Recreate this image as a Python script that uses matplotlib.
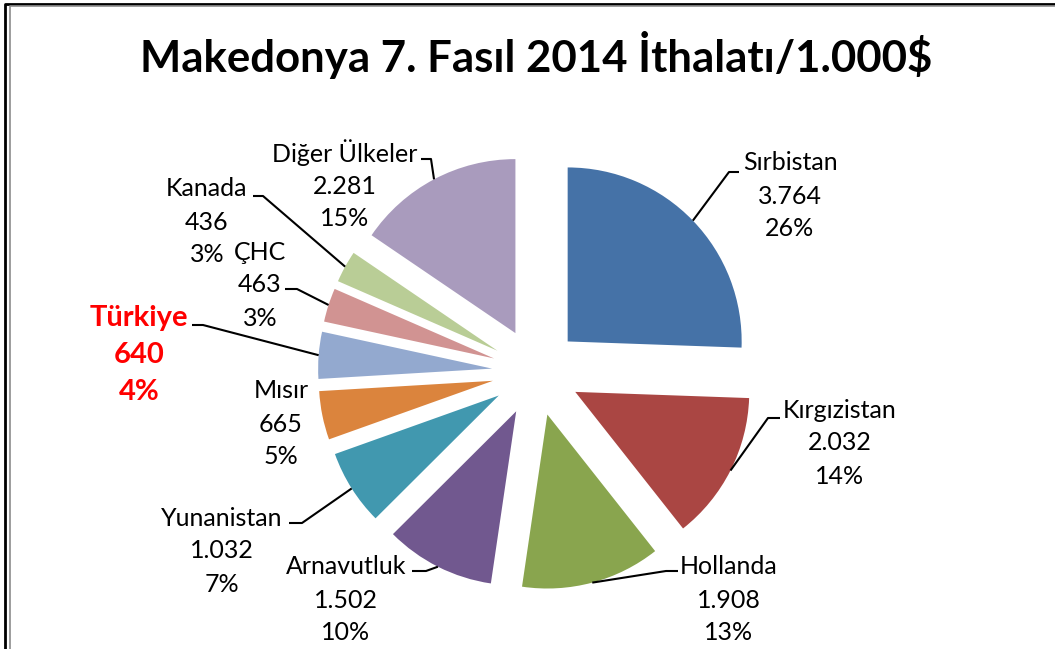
import numpy as np
import matplotlib
matplotlib.use('Agg')
import matplotlib.pyplot as plt

W, H = 1055, 649

countries = ['Sırbistan', 'Kırgızistan', 'Hollanda', 'Arnavutluk', 'Yunanistan',
             'Mısır', 'Türkiye', 'ÇHC', 'Kanada', 'Diğer Ülkeler']
values = [3764, 2032, 1908, 1502, 1032, 665, 640, 463, 436, 2281]
colors = ['#4572A7', '#AA4643', '#89A54E', '#71588F', '#4198AF',
          '#DB843D', '#93A9CF', '#D19392', '#B9CD96', '#A99BBD']
highlight = 'Türkiye'

# label layout in pixels from the top-left: centre x, y of the middle line
label_pos = [(790, 196), (840, 443), (729, 600), (346, 600), (222, 551),
             (281, 424), (139, 355), (260, 285), (207, 222), (345, 186)]
# leader lines: text end point and elbow (None = no leader)
leaders = [((739, 172), (729, 172)), ((780, 418), (768, 418)),
           ((678, 571), (666, 571)), ((412, 571), (426, 571)),
           ((289, 523), (302, 523)), None,
           ((192, 325), (203, 325)), ((285, 289), (297, 289)),
           ((253, 196), (263, 196)), ((421, 159), (431, 159))]

plt.rcParams['font.family'] = ['Lato', 'DejaVu Sans']


def px(x, y):
    return x, H - y


fig = plt.figure(figsize=(W / 100, H / 100), dpi=100)
ax = fig.add_axes([0, 0, 1, 1])

wedges, _ = ax.pie(values, colors=colors, startangle=90, counterclock=False,
                   explode=[44] * len(values), radius=174, center=px(536, 372),
                   wedgeprops=dict(linewidth=0))

ax.set_aspect('auto')
ax.set_xlim(0, W)
ax.set_ylim(0, H)
ax.axis('off')

total = sum(values)
for w, name, v, pos, ld in zip(wedges, countries, values, label_pos, leaders):
    pct = '%d%%' % round(100.0 * v / total)
    num = '{:,}'.format(v).replace(',', '.')
    if name == highlight:
        kw = dict(color='#FF0000', fontsize=21, fontweight='bold')
        step = 37
    else:
        kw = dict(color='black', fontsize=18)
        step = 33
    x, y = pos
    for i, line in enumerate([name, num, pct]):
        ax.text(*px(x, y + (i - 1) * step), line, ha='center', va='center', **kw)

    if ld is not None:
        th = np.deg2rad((w.theta1 + w.theta2) / 2)
        cx, cy = w.center
        ax_pt = (cx + w.r * np.cos(th), cy + w.r * np.sin(th))
        p0 = px(*ld[0])
        p1 = px(*ld[1])
        ax.plot([p0[0], p1[0], ax_pt[0]], [p0[1], p1[1], ax_pt[1]],
                color='black', lw=1.5, solid_capstyle='butt')

ax.text(*px(536, 55), 'Makedonya 7. Fasıl 2014 İthalatı/1.000$',
        ha='center', va='center', fontsize=31.5, fontweight='bold')

# chart frame
ax.plot([5, 5, W], [0, H - 3.5, H - 3.5], color='black', lw=2, clip_on=False)
ax.plot([9.5, 9.5, W], [0, H - 5.5, H - 5.5], color='#8C8C8C', lw=1.2, clip_on=False)

fig.savefig('out.png', dpi=100)
